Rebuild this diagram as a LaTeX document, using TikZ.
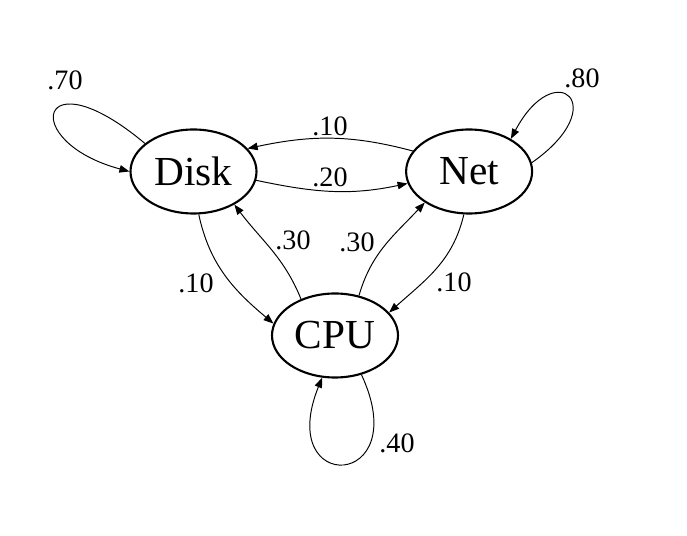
\documentclass[tikz,border=0pt]{standalone}
\usepackage{fontspec}
\setmainfont{Liberation Serif}
\usetikzlibrary{arrows.meta,positioning,shapes.geometric}

\begin{document}
\begin{tikzpicture}[
  state/.style={ellipse,draw,line width=1.2pt,minimum width=2.52cm,minimum height=1.68cm,
    inner sep=0pt,font=\fontsize{23.5}{27}\selectfont},
  prob/.style={inner sep=0pt,font=\fontsize{16}{19}\selectfont},
  trans/.style={line width=0.55pt,-{Triangle[length=0.2cm,width=0.15cm]}}]

  \useasboundingbox (0,0) rectangle (13.74,-10.72);

  \node[state] (disk) at (3.87,-3.43) {Disk};
  \node[state] (net) [right=2.95cm of disk] {Net};
  \node[state] (cpu) at (6.70,-6.71) {CPU};

  % self loops
  \draw[trans] (disk.150) .. controls +(140:2.8) and +(165:2.3) .. (disk.180);
  \draw[trans] (net.8) .. controls +(35:2.0) and +(62:1.9) .. (net.38);
  \draw[trans] (cpu.-56) .. controls +(-65:2.55) and +(248:2.55) .. (cpu.-107);

  \draw[trans] (net.160) to[out=165,in=12] (disk.23);
  \draw[trans] (disk.-8) to[out=-12,in=192] (net.191);
  \draw[trans] (disk.-83) to[out=-78,in=140] (cpu.169);
  \draw[trans] (cpu.133) to[out=112,in=-53] (disk.-39);
  \draw[trans] (cpu.59) to[out=74,in=-133] (net.215);
  \draw[trans] (net.-97) to[out=-103,in=42] (cpu.23);

  \node[prob] (p-dd) at (1.30,-1.60) {.70};
  \node[prob] (p-nn) at (11.64,-1.56) {.80};
  \node[prob] (p-cc) at (7.94,-8.86) {.40};
  \node[prob] (p-nd) at (6.60,-2.52) {.10};
  \node[prob] (p-dn) at (6.60,-3.54) {.20};
  \node[prob] (p-dc) at (3.92,-5.66) {.10};
  \node[prob] (p-cd) at (5.86,-4.80) {.30};
  \node[prob] (p-cn) at (7.14,-4.84) {.30};
  \node[prob] (p-nc) at (9.08,-5.64) {.10};
\end{tikzpicture}
\end{document}
